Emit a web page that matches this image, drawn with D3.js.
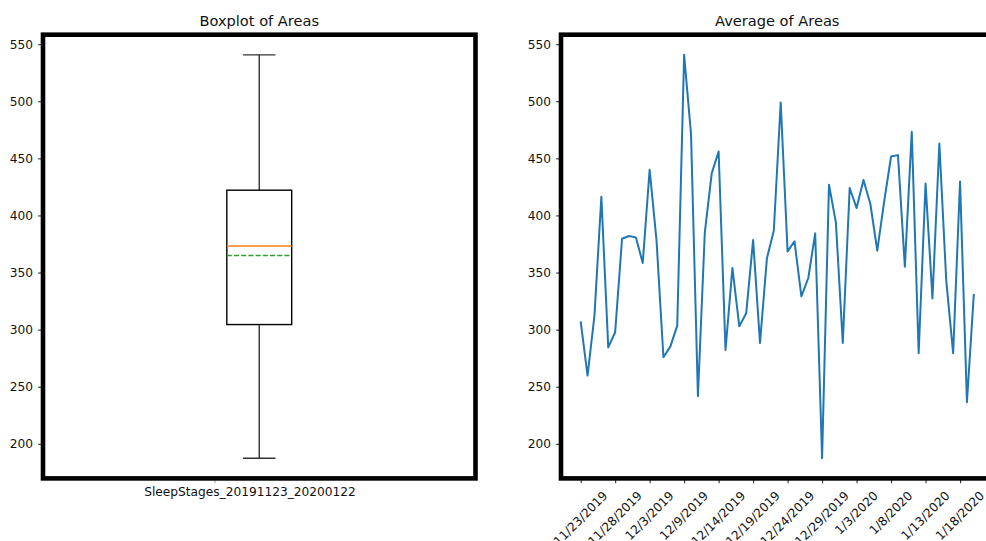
<!DOCTYPE html>
<html>
<head>
<meta charset="utf-8">
<script src="https://cdn.jsdelivr.net/npm/d3@7/dist/d3.min.js"></script>
<style>
  body { margin: 0; background: #fff; }
  text { font-family: "DejaVu Sans", sans-serif; fill: #111; }
</style>
</head>
<body>
<svg id="chart" width="986" height="541"></svg>
<script>
// daily dates (one day missing in early December)
const dates = [
  "11/23/2019", "11/24/2019", "11/25/2019", "11/26/2019", "11/27/2019",
  "11/28/2019", "11/29/2019", "11/30/2019", "12/1/2019", "12/2/2019",
  "12/3/2019", "12/4/2019", "12/5/2019", "12/6/2019", "12/8/2019",
  "12/9/2019", "12/10/2019", "12/11/2019", "12/12/2019", "12/13/2019",
  "12/14/2019", "12/15/2019", "12/16/2019", "12/17/2019", "12/18/2019",
  "12/19/2019", "12/20/2019", "12/21/2019", "12/22/2019", "12/23/2019",
  "12/24/2019", "12/25/2019", "12/26/2019", "12/27/2019", "12/28/2019",
  "12/29/2019", "12/30/2019", "12/31/2019", "1/1/2020", "1/2/2020",
  "1/3/2020", "1/4/2020", "1/5/2020", "1/6/2020", "1/7/2020",
  "1/8/2020", "1/9/2020", "1/10/2020", "1/11/2020", "1/12/2020",
  "1/13/2020", "1/14/2020", "1/15/2020", "1/16/2020", "1/17/2020",
  "1/18/2020", "1/19/2020", "1/20/2020"
];

const areas = [
  307.3, 259.8, 312.3, 416.4, 284.5, 297.7, 379.6, 382.0, 380.8, 358.4,
  440.0, 377.9, 275.8, 285.1, 303.5, 540.6, 471.2, 241.7, 385.2, 436.8,
  456.0, 282.2, 354.0, 302.9, 314.3, 378.5, 288.4, 362.4, 386.6, 498.9,
  368.5, 377.3, 329.2, 345.2, 384.3, 187.4, 426.9, 393.9, 288.4, 424.0,
  406.5, 431.0, 410.0, 369.1, 412.0, 451.6, 452.8, 355.1, 473.3, 279.3,
  428.0, 327.4, 463.0, 342.9, 279.3, 429.8, 236.4, 331.3
];

const yTicks = [200, 250, 300, 350, 400, 450, 500, 550];
const boxLabel = "SleepStages_20191123_20200122";
const tickIdx = d3.range(0, dates.length, 5);

const svg = d3.select("#chart");

const plotTop = 34.7, plotBottom = 478.4;
const leftPanel = { x0: 43, x1: 475.5, title: "Boxplot of Areas" };
const rightPanel = { x0: 561, x1: 993.5, title: "Average of Areas" };
const tickFont = "12.2px";

// same y range on both panels (matplotlib 5% margin)
const ext = d3.extent(areas);
const pad = (ext[1] - ext[0]) * 0.05;
const y = d3.scaleLinear().domain([ext[0] - pad, ext[1] + pad]).range([plotBottom, plotTop]);

function drawYAxis(panel) {
  const g = svg.append("g")
    .attr("transform", `translate(${panel.x0},0)`)
    .call(d3.axisLeft(y).tickValues(yTicks).tickSize(4.9).tickPadding(5));
  g.select(".domain").remove();
  g.selectAll(".tick line").attr("stroke", "#333").attr("stroke-width", 1.1);
  g.selectAll(".tick text")
    .attr("fill", "#111")
    .style("font-size", tickFont)
    .style("font-family", "DejaVu Sans, sans-serif");
}

function drawFrame(panel) {
  svg.append("rect")
    .attr("x", panel.x0)
    .attr("y", plotTop)
    .attr("width", panel.x1 - panel.x0)
    .attr("height", plotBottom - plotTop)
    .attr("fill", "none")
    .attr("stroke", "#000")
    .attr("stroke-width", 4.6);
  svg.append("text")
    .attr("x", (panel.x0 + panel.x1) / 2)
    .attr("y", 25.5)
    .attr("text-anchor", "middle")
    .style("font-size", "14.6px")
    .text(panel.title);
}

// ---- left: boxplot ----
const sorted = areas.slice().sort(d3.ascending);
const q1 = d3.quantile(sorted, 0.25);
const med = d3.quantile(sorted, 0.5);
const q3 = d3.quantile(sorted, 0.75);
const iqr = q3 - q1;
const whiskLo = d3.min(sorted.filter(v => v >= q1 - 1.5 * iqr));
const whiskHi = d3.max(sorted.filter(v => v <= q3 + 1.5 * iqr));
const mean = d3.mean(areas);

const xb = d3.scaleLinear().domain([0.5, 1.5]).range([leftPanel.x0, leftPanel.x1]);
const boxG = svg.append("g");

boxG.selectAll("line.whisker")
  .data([[q1, whiskLo], [q3, whiskHi]])
  .enter().append("line")
  .attr("x1", xb(1)).attr("x2", xb(1))
  .attr("y1", d => y(d[0])).attr("y2", d => y(d[1]))
  .attr("stroke", "#333").attr("stroke-width", 1.4);

boxG.selectAll("line.cap")
  .data([whiskLo, whiskHi])
  .enter().append("line")
  .attr("x1", xb(1 - 0.0375)).attr("x2", xb(1 + 0.0375))
  .attr("y1", d => y(d)).attr("y2", d => y(d))
  .attr("stroke", "#333").attr("stroke-width", 1.4);

boxG.append("rect")
  .attr("x", xb(1 - 0.075))
  .attr("width", xb(1 + 0.075) - xb(1 - 0.075))
  .attr("y", y(q3))
  .attr("height", y(q1) - y(q3))
  .attr("fill", "none")
  .attr("stroke", "#000")
  .attr("stroke-width", 1.4);

boxG.append("line")
  .attr("x1", xb(1 - 0.075)).attr("x2", xb(1 + 0.075))
  .attr("y1", y(med)).attr("y2", y(med))
  .attr("stroke", "#ff7f0e").attr("stroke-width", 1.4);

boxG.append("line")
  .attr("x1", xb(1 - 0.075)).attr("x2", xb(1 + 0.075))
  .attr("y1", y(mean)).attr("y2", y(mean))
  .attr("stroke", "#2ca02c").attr("stroke-width", 1.4)
  .attr("stroke-dasharray", "5,2.2");

// x label under the boxplot
svg.append("line")
  .attr("x1", 215).attr("x2", 215)
  .attr("y1", plotBottom).attr("y2", plotBottom + 4.9)
  .attr("stroke", "#999").attr("stroke-width", 1);
svg.append("text")
  .attr("x", 250)
  .attr("y", 496)
  .attr("text-anchor", "middle")
  .style("font-size", tickFont)
  .text(boxLabel);

drawYAxis(leftPanel);
drawFrame(leftPanel);

// ---- right: line chart ----
const x = d3.scaleLinear()
  .domain([-(dates.length - 1) * 0.05, (dates.length - 1) * 1.05])
  .range([rightPanel.x0, rightPanel.x1]);

svg.append("path")
  .datum(areas)
  .attr("fill", "none")
  .attr("stroke", "#1f77b4")
  .attr("stroke-width", 2)
  .attr("stroke-linejoin", "round")
  .attr("d", d3.line().x((d, i) => x(i)).y(d => y(d)));

const xAxis = svg.append("g")
  .attr("transform", `translate(0,${plotBottom})`)
  .call(d3.axisBottom(x).tickValues(tickIdx).tickSize(4.9).tickFormat(""));
xAxis.select(".domain").remove();
xAxis.selectAll(".tick line").attr("stroke", "#333").attr("stroke-width", 1.1);

// rotated date labels, centred on the tick like matplotlib rotation=45
const labelTop = 489;
const lh = 13.5;
svg.append("g").selectAll("text")
  .data(tickIdx)
  .enter().append("text")
  .style("font-size", tickFont)
  .attr("text-anchor", "middle")
  .attr("dominant-baseline", "central")
  .text(i => dates[i])
  .each(function(i) {
    const w = this.getComputedTextLength();
    const cy = labelTop + (w + lh) * Math.SQRT1_2 / 2;
    d3.select(this).attr("transform", `translate(${x(i)},${cy}) rotate(-45)`);
  });

drawYAxis(rightPanel);
drawFrame(rightPanel);
</script>
</body>
</html>
